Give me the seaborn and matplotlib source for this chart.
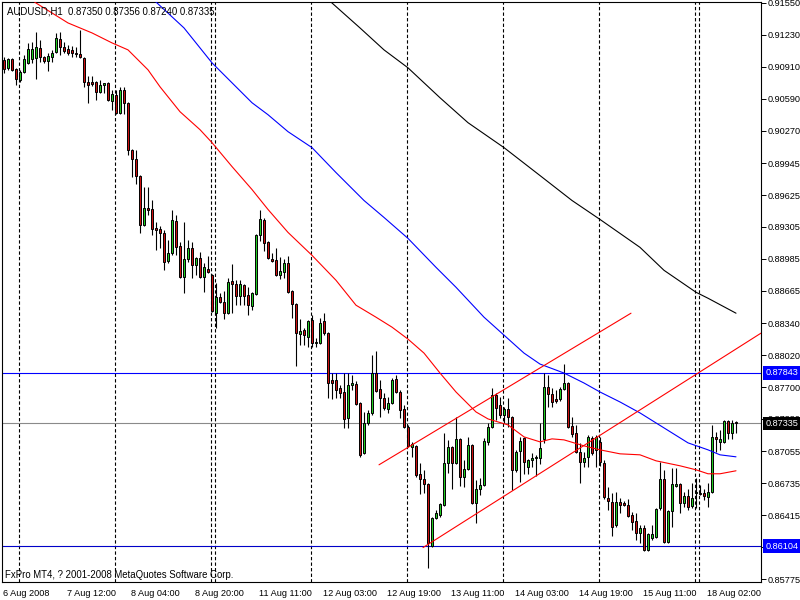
import matplotlib
matplotlib.use("Agg")
import matplotlib.pyplot as plt
import matplotlib.transforms as mtransforms
import numpy as np
import seaborn as sns

# AUDUSD H1 candles, bars 0..183 (6 Aug 20:00 .. 18 Aug 07:00)
opens = [0.9098, 0.9090, 0.9099, 0.9089, 0.9078, 0.9086, 0.9095, 0.9099, 0.9100, 0.9110, 0.9101, 0.9097,
         0.9101, 0.9106, 0.9119, 0.9111, 0.9109, 0.9108, 0.9105, 0.9104, 0.9100, 0.9076, 0.9076, 0.9076,
         0.9066, 0.9073, 0.9075, 0.9057, 0.9063, 0.9045, 0.9068, 0.9055, 0.9008, 0.8999, 0.8982, 0.8932,
         0.8949, 0.8948, 0.8929, 0.8928, 0.8924, 0.8896, 0.8904, 0.8936, 0.8911, 0.8880, 0.8898, 0.8909,
         0.8892, 0.8899, 0.8880, 0.8888, 0.8882, 0.8844, 0.8860, 0.8855, 0.8844, 0.8876, 0.8873, 0.8861,
         0.8872, 0.8862, 0.8851, 0.8863, 0.8922, 0.8937, 0.8915, 0.8898, 0.8897, 0.8882, 0.8885, 0.8894,
         0.8866, 0.8853, 0.8823, 0.8827, 0.8820, 0.8837, 0.8814, 0.8814, 0.8836, 0.8824, 0.8777, 0.8777,
         0.8769, 0.8765, 0.8739, 0.8772, 0.8773, 0.8754, 0.8704, 0.8734, 0.8744, 0.8784, 0.8768, 0.8759,
         0.8748, 0.8754, 0.8778, 0.8765, 0.8748, 0.8730, 0.8710, 0.8711, 0.8683, 0.8678, 0.8673, 0.8611,
         0.8639, 0.8642, 0.8652, 0.8694, 0.8710, 0.8694, 0.8718, 0.8680, 0.8688, 0.8712, 0.8654, 0.8668,
         0.8672, 0.8715, 0.8730, 0.8762, 0.8752, 0.8742, 0.8748, 0.8740, 0.8687, 0.8706, 0.8719, 0.8690,
         0.8697, 0.8699, 0.8699, 0.8718, 0.8770, 0.8763, 0.8758, 0.8758, 0.8768, 0.8774, 0.8731, 0.8724,
         0.8705, 0.8695, 0.8700, 0.8719, 0.8707, 0.8715, 0.8694, 0.8659, 0.8655, 0.8632, 0.8655, 0.8654,
         0.8652, 0.8642, 0.8636, 0.8624, 0.8629, 0.8607, 0.8619, 0.8620, 0.8649, 0.8678, 0.8615, 0.8646,
         0.8671, 0.8673, 0.8654, 0.8661, 0.8651, 0.8664, 0.8664, 0.8664, 0.8660, 0.8665, 0.8720, 0.8715,
         0.8715, 0.8736, 0.8724, 0.87350]
highs = [0.9101, 0.9100, 0.9100, 0.9090, 0.9088, 0.9103, 0.9115, 0.9116, 0.9126, 0.9118, 0.9102, 0.9105,
         0.9108, 0.9125, 0.9126, 0.9116, 0.9113, 0.9112, 0.9111, 0.9128, 0.9101, 0.9082, 0.9082, 0.9077,
         0.9078, 0.9075, 0.9076, 0.9068, 0.9068, 0.9071, 0.9071, 0.9056, 0.9009, 0.9008, 0.8983, 0.8971,
         0.8971, 0.8957, 0.8935, 0.8931, 0.8927, 0.8917, 0.8947, 0.8942, 0.8915, 0.8935, 0.8917, 0.8915,
         0.8900, 0.8905, 0.8894, 0.8901, 0.8883, 0.8874, 0.8864, 0.8866, 0.8879, 0.8893, 0.8877, 0.8877,
         0.8873, 0.8870, 0.8865, 0.8923, 0.8947, 0.8939, 0.8916, 0.8904, 0.8909, 0.8900, 0.8898, 0.8901,
         0.8867, 0.8854, 0.8838, 0.8829, 0.8837, 0.8842, 0.8819, 0.8839, 0.8844, 0.8825, 0.8784, 0.8784,
         0.8772, 0.8784, 0.8784, 0.8782, 0.8776, 0.8755, 0.8745, 0.8747, 0.8802, 0.8806, 0.8777, 0.8764,
         0.8760, 0.8779, 0.8782, 0.8767, 0.8752, 0.8732, 0.8715, 0.8712, 0.8694, 0.8687, 0.8674, 0.8640,
         0.8647, 0.8654, 0.8724, 0.8717, 0.8711, 0.8740, 0.8719, 0.8697, 0.8720, 0.8713, 0.8677, 0.8679,
         0.8719, 0.8734, 0.8769, 0.8764, 0.8760, 0.8750, 0.8759, 0.8741, 0.8707, 0.8720, 0.8720, 0.8698,
         0.8704, 0.8702, 0.8734, 0.8784, 0.8782, 0.8769, 0.8767, 0.8770, 0.8793, 0.8775, 0.8740, 0.8732,
         0.8714, 0.8705, 0.8722, 0.8721, 0.8722, 0.8720, 0.8697, 0.8670, 0.8664, 0.8665, 0.8659, 0.8656,
         0.8658, 0.8645, 0.8644, 0.8632, 0.8632, 0.8624, 0.8632, 0.8649, 0.8695, 0.8687, 0.8647, 0.8689,
         0.8689, 0.8674, 0.8665, 0.8668, 0.8674, 0.8679, 0.8672, 0.8668, 0.8674, 0.8732, 0.8725, 0.8727,
         0.8737, 0.8737, 0.8737, 0.87356]
lows = [0.9085, 0.9088, 0.9087, 0.9073, 0.9076, 0.9085, 0.9094, 0.9095, 0.9079, 0.9096, 0.9095, 0.9087,
        0.9096, 0.9105, 0.9103, 0.9105, 0.9103, 0.9101, 0.9101, 0.9100, 0.9071, 0.9055, 0.9072, 0.9058,
        0.9065, 0.9065, 0.9057, 0.9048, 0.9044, 0.9044, 0.9044, 0.9003, 0.8981, 0.8974, 0.8924, 0.8931,
        0.8942, 0.8922, 0.8907, 0.8909, 0.8887, 0.8894, 0.8902, 0.8902, 0.8879, 0.8864, 0.8895, 0.8879,
        0.8882, 0.8879, 0.8865, 0.8884, 0.8845, 0.8829, 0.8854, 0.8838, 0.8843, 0.8844, 0.8852, 0.8852,
        0.8852, 0.8842, 0.8847, 0.8862, 0.8916, 0.8906, 0.8898, 0.8895, 0.8881, 0.8878, 0.8879, 0.8864,
        0.8839, 0.8791, 0.8812, 0.8812, 0.8810, 0.8810, 0.8810, 0.8813, 0.8822, 0.8759, 0.8758, 0.8759,
        0.8759, 0.8729, 0.8729, 0.8767, 0.8752, 0.8700, 0.8703, 0.8732, 0.8742, 0.8765, 0.8740, 0.8747,
        0.8744, 0.8753, 0.8764, 0.8739, 0.8729, 0.8710, 0.8700, 0.8680, 0.8663, 0.8664, 0.8589, 0.8610,
        0.8638, 0.8640, 0.8651, 0.8684, 0.8668, 0.8693, 0.8671, 0.8670, 0.8687, 0.8653, 0.8634, 0.8662,
        0.8671, 0.8712, 0.8729, 0.8737, 0.8739, 0.8734, 0.8730, 0.8667, 0.8685, 0.8675, 0.8683, 0.8683,
        0.8690, 0.8681, 0.8693, 0.8714, 0.8750, 0.8750, 0.8754, 0.8756, 0.8767, 0.8729, 0.8720, 0.8704,
        0.8674, 0.8690, 0.8690, 0.8702, 0.8690, 0.8691, 0.8658, 0.8647, 0.8621, 0.8630, 0.8644, 0.8651,
        0.8640, 0.8627, 0.8617, 0.8614, 0.8606, 0.8606, 0.8617, 0.8619, 0.8647, 0.8614, 0.8614, 0.8630,
        0.8670, 0.8644, 0.8650, 0.8647, 0.8649, 0.8649, 0.8662, 0.8657, 0.8650, 0.8664, 0.8705, 0.8707,
        0.8714, 0.8718, 0.8718, 0.87240]
closes = [0.9089, 0.9099, 0.9088, 0.9079, 0.9086, 0.9099, 0.9109, 0.9109, 0.9111, 0.9101, 0.9097, 0.9102,
          0.9105, 0.9120, 0.9111, 0.9107, 0.9105, 0.9105, 0.9104, 0.9101, 0.9076, 0.9073, 0.9074, 0.9066,
          0.9073, 0.9075, 0.9058, 0.9064, 0.9045, 0.9068, 0.9055, 0.9008, 0.8999, 0.8982, 0.8932, 0.8949,
          0.8947, 0.8928, 0.8927, 0.8924, 0.8895, 0.8904, 0.8937, 0.8910, 0.8880, 0.8898, 0.8909, 0.8892,
          0.8899, 0.8880, 0.8890, 0.8885, 0.8846, 0.8860, 0.8855, 0.8844, 0.8875, 0.8873, 0.8861, 0.8873,
          0.8861, 0.8852, 0.8864, 0.8922, 0.8938, 0.8914, 0.8899, 0.8896, 0.8882, 0.8886, 0.8894, 0.8865,
          0.8853, 0.8824, 0.8826, 0.8822, 0.8836, 0.8814, 0.8815, 0.8834, 0.8824, 0.8774, 0.8774, 0.8767,
          0.8764, 0.8738, 0.8772, 0.8774, 0.8753, 0.8702, 0.8734, 0.8744, 0.8784, 0.8766, 0.8759, 0.8749,
          0.8754, 0.8777, 0.8765, 0.8747, 0.8730, 0.8711, 0.8713, 0.8682, 0.8678, 0.8673, 0.8614, 0.8639,
          0.8644, 0.8653, 0.8694, 0.8710, 0.8694, 0.8718, 0.8680, 0.8688, 0.8712, 0.8654, 0.8668, 0.8672,
          0.8716, 0.8730, 0.8762, 0.8749, 0.8742, 0.8748, 0.8740, 0.8687, 0.8705, 0.8716, 0.8695, 0.8697,
          0.8699, 0.8700, 0.8709, 0.8770, 0.8763, 0.8755, 0.8756, 0.8768, 0.8774, 0.8730, 0.8723, 0.8705,
          0.8695, 0.8699, 0.8720, 0.8704, 0.8720, 0.8695, 0.8660, 0.8656, 0.8630, 0.8655, 0.8652, 0.8652,
          0.8641, 0.8635, 0.8624, 0.8629, 0.8607, 0.8623, 0.8623, 0.8648, 0.8678, 0.8615, 0.8646, 0.8673,
          0.8673, 0.8654, 0.8661, 0.8650, 0.8659, 0.8665, 0.8663, 0.8661, 0.8665, 0.8720, 0.8718, 0.8718,
          0.8736, 0.8724, 0.8734, 0.87335]

# moving averages (bar index, value)
red_ma_x = [6, 8, 16, 22, 27, 31, 36, 39, 44, 49, 52, 57, 62, 66, 71, 77, 83, 88, 93, 97, 101, 105, 109,
            113, 118, 121, 126, 130, 134, 137, 140, 145, 149, 154, 159, 163, 169, 173, 176, 179, 183]
red_ma = [0.9161, 0.9155, 0.9135, 0.9125, 0.9115, 0.9108, 0.9088, 0.9071, 0.9046, 0.9028, 0.9015, 0.8991,
          0.8968, 0.8948, 0.8925, 0.8902, 0.8877, 0.8852, 0.8840, 0.8830, 0.8818, 0.8804, 0.8784, 0.8765,
          0.8745, 0.8738, 0.8732, 0.8720, 0.8715, 0.8718, 0.8717, 0.8711, 0.8707, 0.8703, 0.8702, 0.8696,
          0.8691, 0.8687, 0.8683, 0.8683, 0.8686]
blue_ma_x = [36, 38, 45, 52, 57, 62, 66, 71, 77, 83, 90, 95, 101, 108, 113, 120, 125, 130, 134, 140, 145,
             149, 154, 159, 165, 171, 176, 179, 183]
blue_ma = [0.9162, 0.9156, 0.9130, 0.9095, 0.9075, 0.9055, 0.9043, 0.9026, 0.9010, 0.8985, 0.8957, 0.8940,
           0.8919, 0.8890, 0.8870, 0.8840, 0.8822, 0.8804, 0.8793, 0.8784, 0.8774, 0.8765, 0.8755, 0.8744,
           0.8729, 0.8714, 0.8707, 0.8702, 0.8700]
black_ma_x = [80, 82, 89, 95, 101, 109, 116, 125, 134, 142, 149, 159, 165, 173, 176, 183]
black_ma = [0.9162, 0.9155, 0.9130, 0.9108, 0.9090, 0.9060, 0.9035, 0.9010, 0.8982, 0.8957, 0.8938,
            0.8910, 0.8887, 0.8865, 0.8859, 0.8844]

# red trend channel
chan_up_x = [93.75, 156.75]
chan_up_y = [0.8692, 0.8844]
chan_low_x = [104.75, 189.25]
chan_low_y = [0.8609, 0.8824]

# horizontal levels
level_high = 0.87843
level_bid = 0.87335
level_low = 0.86104

# day separators (bar index of first bar of the day)
day_starts = [4, 28, 52, 53, 77, 101, 125, 149, 173, 174]

xtick_bars = [0, 16, 32, 48, 64, 80, 96, 112, 128, 144, 160, 176]
xtick_labels = ["6 Aug 2008", "7 Aug 12:00", "8 Aug 04:00", "8 Aug 20:00", "11 Aug 11:00",
                "12 Aug 03:00", "12 Aug 19:00", "13 Aug 11:00", "14 Aug 03:00", "14 Aug 19:00",
                "15 Aug 11:00", "18 Aug 02:00"]
yticks = [0.91550, 0.91230, 0.90910, 0.90590, 0.90270, 0.89945, 0.89625, 0.89305, 0.88985, 0.88665,
          0.88340, 0.88020, 0.87700, 0.87380, 0.87055, 0.86735, 0.86415, 0.86095, 0.85775]

sns.set_style("white")
plt.rcParams['font.family'] = ['Liberation Sans', 'DejaVu Sans']
FS = 6.6

fig = plt.figure(figsize=(8, 6), dpi=100)
ax = fig.add_axes([2 / 800, 18 / 600, 759 / 800, 580 / 600])

o = np.array(opens)
h = np.array(highs)
l = np.array(lows)
c = np.array(closes)
bars = np.arange(len(o))
up = c >= o

for d in day_starts:
    ax.axvline(d - 0.25, color="black", lw=0.8, ls=(0, (3, 2)), zorder=1)

ax.axhline(level_high, color="#0000ff", lw=0.8, zorder=1.5)
ax.axhline(level_bid, color="#8a8a8a", lw=0.8, zorder=1.5)
ax.axhline(level_low, color="#0000c8", lw=0.8, zorder=1.5)

ax.vlines(bars, l, h, color="black", lw=0.8, zorder=3)
body_bottom = np.minimum(o, c)
body_height = np.maximum(np.abs(c - o), 0.00001)
ax.bar(bars, body_height, bottom=body_bottom, width=0.55,
       color=np.where(up, "#22cc22", "#cc1111"), edgecolor="black", linewidth=0.7, zorder=4)

sns.lineplot(x=red_ma_x, y=red_ma, color="#ff0000", lw=0.8, ax=ax, estimator=None, sort=False, zorder=5)
sns.lineplot(x=blue_ma_x, y=blue_ma, color="#0000ff", lw=0.8, ax=ax, estimator=None, sort=False, zorder=5)
sns.lineplot(x=black_ma_x, y=black_ma, color="black", lw=0.8, ax=ax, estimator=None, sort=False, zorder=5)
ax.plot(chan_up_x, chan_up_y, color="#ff0000", lw=0.8, zorder=5)
ax.plot(chan_low_x, chan_low_y, color="#ff0000", lw=0.8, zorder=5)

ax.set_xlim(-0.5, 189.25)
ax.set_ylim(0.85745, 0.91560)

for s in ax.spines.values():
    s.set_visible(True)
    s.set_color("black")
    s.set_linewidth(0.8)

# price labels hidden behind the level boxes are left blank
covered = {0.86095}
ax.yaxis.tick_right()
ax.set_yticks(yticks)
ax.set_yticklabels(["" if v in covered else "%.5f" % v for v in yticks])
ax.set_xticks([b - 0.25 for b in xtick_bars])
ax.set_xticklabels(xtick_labels, ha="left")
ax.tick_params(axis="both", direction="out", length=3.5, width=0.7, color="black",
               labelsize=FS, labelcolor="black", pad=1.5)
ax.set_xlabel("")
ax.set_ylabel("")

trans = mtransforms.blended_transform_factory(ax.transAxes, ax.transData)
for val, fc in [(level_high, "#0000ff"), (level_bid, "black"), (level_low, "#0000ff")]:
    ax.text(1.0 + 4.5 / 759, val, "%.5f" % val, transform=trans, ha="left", va="center",
            fontsize=FS, color="white", clip_on=False, zorder=10,
            bbox=dict(boxstyle="square,pad=0.25", fc=fc, ec="none"))

fig.text(7 / 800, 1 - 11 / 600, "AUDUSD,H1  0.87350 0.87356 0.87240 0.87335",
         fontsize=FS + 0.3, ha="left", va="center", color="black")
fig.text(5 / 800, 1 - 575 / 600, "FxPro MT4, ? 2001-2008 MetaQuotes Software Corp.",
         fontsize=FS + 0.3, ha="left", va="center", color="black")

fig.savefig("out.png", dpi=100, facecolor="white")
